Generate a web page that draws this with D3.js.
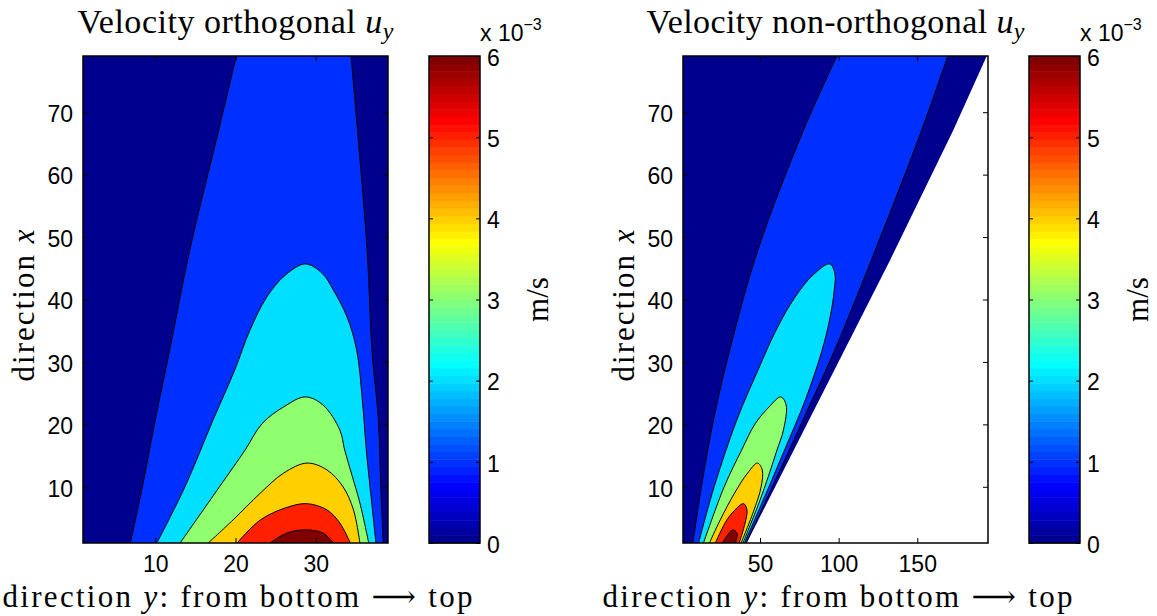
<!DOCTYPE html>
<html>
<head>
<meta charset="utf-8">
<script src="https://cdn.jsdelivr.net/npm/d3@7"></script>
<style>
body { margin: 0; background: #fff; }
</style>
</head>
<body>
<svg id="fig" width="1157" height="616"></svg>
<script>
// contour levels and colorbar ticks, in units of 1e-3 m/s
var levels = [0, 1, 2, 3, 4, 5, 6];
var cbTicks = [0, 1, 2, 3, 4, 5, 6];
var xTicks = [10, 20, 30, 40, 50, 60, 70];
var yTicksOrth = [10, 20, 30];
var yTicksNon = [50, 100, 150];

// contour lines, points are [direction y, direction x]
// orthogonal grid
var orthL1a = [[6.9,1],[8.4,10],[10.0,20.7],[11.8,31.9],[14.3,47.9],[17.9,67.1],[20.1,79]];
var orthL1b = [[34.4,79],[35.2,67.1],[36.4,47.9],[37.0,31.9],[37.8,20.7],[38.1,10],[38.4,1]];
var orthL2 = [[10.2,1],[13.7,10],[17.2,20.7],[19.9,28.7],[21.8,35.1],[23.9,40.4],[26.2,43.9],[28.7,45.7],
              [30.8,44.2],[32.2,41.5],[33.9,37.2],[35.1,31.9],[35.8,23.9],[36.3,15.9],[36.8,9.5],[37.5,1]];
var orthL3 = [[13.1,1],[18.0,10],[21.2,15.9],[23.3,20.1],[26.0,22.8],[28.7,24.4],[30.9,23.1],[33.0,19.1],
              [33.6,15.9],[34.5,11.9],[35.5,7.4],[36.6,1]];
var orthL4 = [[16.6,1],[19.7,4.7],[23.1,9.0],[26.0,12.2],[28.9,13.8],[31.4,12.7],[33.4,10.0],[34.7,6.3],[35.5,1]];
var orthL5 = [[20.2,1],[23.1,4.7],[26.4,6.7],[28.9,7.3],[31.4,6.3],[33.0,4.2],[34.3,1]];
var orthL6 = [[24.3,1],[26.4,2.6],[28.7,3.1],[30.9,2.6],[32.2,1]];
var orthEdge = [[39,1],[39,79]];

// non-orthogonal grid
var nonL1a = [[7.3,1],[12.7,10],[20.4,20.7],[30.7,31.9],[48.6,47.9],[77.6,67.1],[98.9,79]];
var nonL1b = [[169.4,79],[152.8,67.1],[123.3,47.9],[97.5,31.9],[77.3,20.7],[57.8,10],[41.1,1]];
var nonL2 = [[10.9,1],[20.8,10],[35.2,20.7],[48.7,28.7],[60.2,35.1],[72.3,40.4],[83.6,43.9],[94.3,45.7],
             [97.6,44.2],[97.2,41.5],[94.6,37.2],[89.5,31.9],[78.8,23.9],[65.6,15.9],[54.8,9.5],[40.1,1]];
var nonL3 = [[14.0,1],[27.2,10],[38.3,15.9],[46.9,20.1],[55.8,22.8],[63.2,24.4],[66.6,23.1],[64.9,19.1],
             [60.8,15.9],[55.6,11.9],[49.3,7.4],[39.1,1]];
var nonL4 = [[17.8,1],[24.7,4.7],[33.8,9.0],[42.1,12.2],[48.4,13.8],[51.4,12.7],[50.7,10.0],[46.2,6.3],[38.0,1]];
var nonL5 = [[21.6,1],[28.9,4.7],[35.7,6.7],[39.6,7.3],[41.7,6.3],[40.5,4.2],[36.7,1]];
var nonL6 = [[26.0,1],[30.3,2.6],[32.8,3.1],[35.3,2.6],[34.4,1]];
var nonEdge = [[41.5,1],[132.7,46.3],[172.9,67.1],[194.2,79]];

// matlab jet(64)
function jet(m) {
    var n = Math.ceil(m / 4), u = [], i;
    for (i = 1; i <= n; i++) u.push(i / n);
    for (i = 1; i < n; i++) u.push(1);
    for (i = n; i >= 1; i--) u.push(i / n);
    var J = [];
    for (i = 0; i < m; i++) J.push([0, 0, 0]);
    var off = Math.ceil(n / 2) - (m % 4 == 1 ? 1 : 0);
    var bl = [];
    for (i = 1; i <= u.length; i++) {
        var g = off + i, r = g + n, b = g - n;
        if (g <= m) J[g - 1][1] = u[i - 1];
        if (r <= m) J[r - 1][0] = u[i - 1];
        if (b >= 1) bl.push(b);
    }
    bl.forEach(function(b, k) { J[b - 1][2] = u[u.length - bl.length + k]; });
    return J.map(function(c) {
        return d3.rgb(Math.round(c[0] * 255), Math.round(c[1] * 255), Math.round(c[2] * 255)).toString();
    });
}
var cmap = jet(64);
function levelColor(v) {
    return cmap[Math.min(63, Math.floor(v / 6 * 64))];
}

var svg = d3.select("#fig");
var TOP = 56, BOTTOM = 543, PW = 305, CBW = 51;
var sansFont = "'Liberation Sans', Arial, sans-serif";
var serifFont = "'Liberation Serif', 'DejaVu Serif', serif";

function panel(o) {
    var sx = d3.scaleLinear().domain(o.ydom).range([o.left, o.left + PW]);
    var sy = d3.scaleLinear().domain([1, 79]).range([BOTTOM, TOP]);

    var g = svg.append("g");
    var clipId = "clip" + o.left;
    svg.append("clipPath").attr("id", clipId)
        .append("rect").attr("x", o.left).attr("y", TOP).attr("width", PW).attr("height", BOTTOM - TOP);
    var body = g.append("g").attr("clip-path", "url(#" + clipId + ")");

    var curve = d3.line().x(function(d) { return sx(d[0]); }).y(function(d) { return sy(d[1]); })
        .curve(d3.curveCatmullRom.alpha(0.5));
    var straight = d3.line().x(function(d) { return sx(d[0]); }).y(function(d) { return sy(d[1]); });

    // data domain, lowest level
    var dom = [[o.ydom[0], 1]].concat(o.edge).concat([[o.ydom[0], 79]]);
    body.append("path").attr("d", straight(dom) + "Z").attr("fill", levelColor(levels[0]));

    // level 1 reaches the top edge: two branches
    body.append("path")
        .attr("d", curve(o.l1a) + curve(o.l1b).replace("M", "L") + "Z")
        .attr("fill", levelColor(levels[1]));
    o.rest.forEach(function(c, i) {
        body.append("path").attr("d", curve(c) + "Z").attr("fill", levelColor(levels[i + 2]));
    });

    [o.l1a, o.l1b].concat(o.rest).forEach(function(c) {
        body.append("path").attr("d", curve(c)).attr("fill", "none")
            .attr("stroke", "#000").attr("stroke-width", 1);
    });

    // axes, ticks pointing inward
    var ax = g.append("g").attr("font-family", sansFont);
    ax.append("g").attr("transform", "translate(0," + BOTTOM + ")")
        .call(d3.axisBottom(sx).tickValues(o.yticks).tickSizeInner(-5).tickSizeOuter(0).tickPadding(13));
    ax.append("g").attr("transform", "translate(0," + TOP + ")")
        .call(d3.axisTop(sx).tickValues(o.yticks).tickSizeInner(-5).tickSizeOuter(0).tickFormat(""));
    var lAx = ax.append("g").attr("transform", "translate(" + o.left + ",0)")
        .call(d3.axisLeft(sy).tickValues(xTicks).tickSizeInner(-5).tickSizeOuter(0).tickPadding(10));
    ax.append("g").attr("transform", "translate(" + (o.left + PW) + ",0)")
        .call(d3.axisRight(sy).tickValues(xTicks).tickSizeInner(-5).tickSizeOuter(0).tickFormat(""));
    ax.selectAll(".domain").remove();
    ax.selectAll("text").attr("font-size", 23).attr("font-family", sansFont).attr("fill", "#000");
    lAx.selectAll("text").attr("dy", "0.4em");
    ax.selectAll("line").attr("stroke", "#000").attr("stroke-width", 1);

    g.append("rect").attr("x", o.left).attr("y", TOP).attr("width", PW).attr("height", BOTTOM - TOP)
        .attr("fill", "none").attr("stroke", "#000").attr("stroke-width", 1.5);

    // title
    var t = g.append("text").attr("x", o.left + PW / 2).attr("y", 33).attr("text-anchor", "middle")
        .attr("font-family", serifFont).attr("font-size", 34)
        .attr("textLength", o.titleW).attr("lengthAdjust", "spacing");
    t.append("tspan").text(o.title + " ");
    t.append("tspan").attr("font-style", "italic").text("u");
    t.append("tspan").attr("font-style", "italic").attr("font-size", 24).attr("dy", 6).text("y");

    // x label
    var xl = g.append("text").attr("x", o.left + PW / 2 + 2).attr("y", 607).attr("text-anchor", "middle")
        .attr("font-family", serifFont).attr("font-size", 31)
        .attr("textLength", 470).attr("lengthAdjust", "spacing");
    xl.append("tspan").text("direction ");
    xl.append("tspan").attr("font-style", "italic").text("y");
    xl.append("tspan").text(": from bottom \u27F6 top");

    // y label
    var yl = g.append("text").attr("transform", "translate(" + (o.left - 49) + "," + ((TOP + BOTTOM) / 2 + 6) + ") rotate(-90)")
        .attr("text-anchor", "middle").attr("font-family", serifFont).attr("font-size", 31)
        .attr("textLength", 152).attr("lengthAdjust", "spacing");
    yl.append("tspan").text("direction ");
    yl.append("tspan").attr("font-style", "italic").text("x");

    // colorbar
    var cx = o.left + PW + 41;
    var cs = d3.scaleLinear().domain([0, 6]).range([BOTTOM, TOP]);
    var cb = svg.append("g");
    cb.selectAll("rect.band").data(cmap).enter().append("rect")
        .attr("class", "band")
        .attr("x", cx).attr("width", CBW)
        .attr("y", function(d, i) { return cs((i + 1) * 6 / 64); })
        .attr("height", function(d, i) { return cs(i * 6 / 64) - cs((i + 1) * 6 / 64) + 0.5; })
        .attr("fill", function(d) { return d; });
    var cR = cb.append("g").attr("transform", "translate(" + (cx + CBW) + ",0)")
        .call(d3.axisRight(cs).tickValues(cbTicks).tickFormat(d3.format("d"))
            .tickSizeInner(-4).tickSizeOuter(0).tickPadding(7));
    cb.append("g").attr("transform", "translate(" + cx + ",0)")
        .call(d3.axisLeft(cs).tickValues(cbTicks).tickSizeInner(-4).tickSizeOuter(0).tickFormat(""));
    cb.selectAll(".domain").remove();
    cb.selectAll("line").attr("stroke", "#000");
    cR.selectAll("text").attr("font-size", 23).attr("font-family", sansFont).attr("fill", "#000").attr("dy", "0.4em");
    cb.append("rect").attr("x", cx).attr("y", TOP).attr("width", CBW).attr("height", BOTTOM - TOP)
        .attr("fill", "none").attr("stroke", "#000").attr("stroke-width", 1.5);

    var ex = cb.append("text").attr("x", cx + CBW).attr("y", 41)
        .attr("font-family", sansFont).attr("font-size", 23);
    ex.append("tspan").text("x 10");
    ex.append("tspan").attr("font-size", 16).attr("dy", -11).text("\u22123");

    cb.append("text").attr("transform", "translate(" + (cx + CBW + 68) + "," + ((TOP + BOTTOM) / 2) + ") rotate(-90)")
        .attr("text-anchor", "middle").attr("font-family", serifFont).attr("font-size", 31).text("m/s");
}

panel({
    left: 83, ydom: [1, 39], yticks: yTicksOrth, title: "Velocity orthogonal", titleW: 316,
    l1a: orthL1a, l1b: orthL1b, rest: [orthL2, orthL3, orthL4, orthL5, orthL6], edge: orthEdge
});
panel({
    left: 683, ydom: [1, 195], yticks: yTicksNon, title: "Velocity non-orthogonal", titleW: 378,
    l1a: nonL1a, l1b: nonL1b, rest: [nonL2, nonL3, nonL4, nonL5, nonL6], edge: nonEdge
});
</script>
</body>
</html>
